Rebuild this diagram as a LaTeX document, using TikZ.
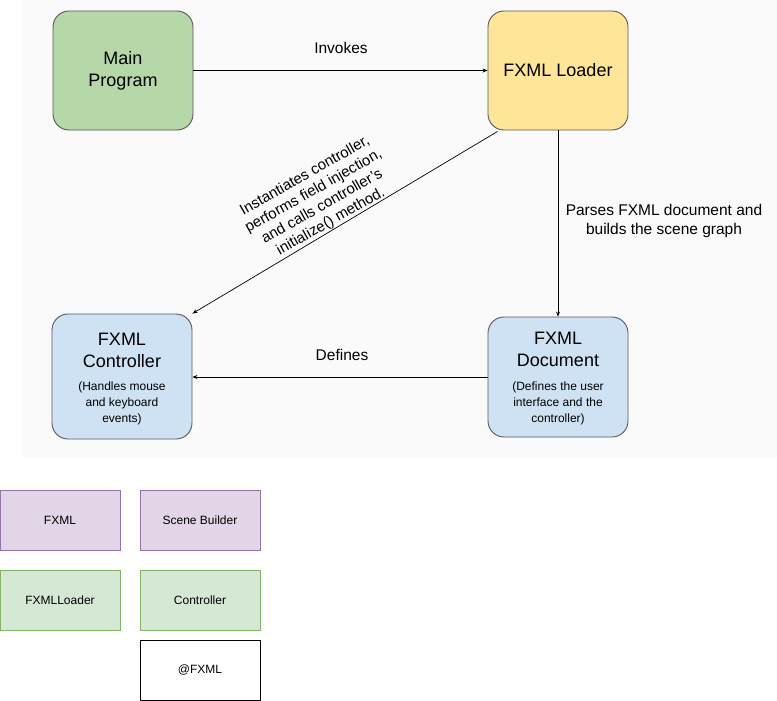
\documentclass[tikz,border=0pt]{standalone}
\usepackage{fontspec}
\setmainfont{Liberation Sans}
\usetikzlibrary{arrows.meta}
\definecolor{mpfill}{HTML}{B6D7A8}
\definecolor{ldfill}{HTML}{FFE599}
\definecolor{bluefill}{HTML}{CFE2F3}
\definecolor{boxline}{HTML}{595959}
\definecolor{purfill}{HTML}{E1D5E7}
\definecolor{purline}{HTML}{9673A6}
\definecolor{grfill}{HTML}{D5E8D4}
\definecolor{grline}{HTML}{82B366}
\definecolor{bgfill}{HTML}{FAFAFA}
\tikzset{
  bigbox/.style={draw=boxline, line width=0.9pt, rounded corners=16pt, minimum width=140pt, align=center, inner sep=0pt},
  legbox/.style={draw, line width=0.8pt, minimum width=120pt, minimum height=60pt, inner sep=0pt, font=\fontsize{12}{14}\selectfont},
  conn/.style={line width=0.7pt, -{Stealth[length=5pt,width=4pt]}},
  lbl/.style={font=\fontsize{15.5}{18.5}\selectfont, align=center},
  ttl/.style={font=\fontsize{18}{22}\selectfont, align=center},
  sub/.style={font=\fontsize{12}{16}\selectfont, align=center}
}
\begin{document}
\begin{tikzpicture}[x=1pt,y=-1pt]
\useasboundingbox (0,0) rectangle (777,701);
\fill[bgfill] (22,0) rectangle (777,457);
\node[bigbox, fill=mpfill, minimum height=119pt, ttl] (main) at (123,70.5) {Main\\Program};
\node[bigbox, fill=ldfill, minimum height=119pt, ttl] (loader) at (558,70.5) {FXML Loader};
\node[bigbox, fill=bluefill, minimum height=125pt] (ctrl) at (122,376.5) {};
\node[bigbox, fill=bluefill, minimum height=120pt] (doc) at (558,377) {};
\node[ttl] (ctrlt) at (122,350) {FXML\\Controller};
\node[sub] (ctrls) at (122,403) {(Handles mouse\\and keyboard\\events)};
\node[ttl] (doct) at (558,349) {FXML\\Document};
\node[sub] (docs) at (558,403) {(Defines the user\\interface and the\\controller)};
\draw[conn] (main.east) -- (loader.west);
\node[lbl] (invl) at (341,48) {Invokes};
\path (loader.south west) ++(10,1) coordinate (ds);
\draw[conn] (ds) -- (ctrl.north east);
\node[lbl, font=\fontsize{15}{17.5}\selectfont, rotate=29.5] (instl) at (318,199) {Instantiates controller,\\performs field injection,\\and calls controller's\\initialize() method.};
\draw[conn] (loader.south) -- (doc.north);
\node[lbl] (parl) at (664,221) {Parses FXML document and\\builds the scene graph};
\draw[conn] (doc.west) -- (ctrl.east |- doc.west);
\node[lbl] (defl) at (342,355) {Defines};
\node[legbox, fill=purfill, draw=purline] (l1) at (60,520) {FXML};
\node[legbox, fill=purfill, draw=purline] (l2) at (200,520) {Scene Builder};
\node[legbox, fill=grfill, draw=grline] (l3) at (60,600) {FXMLLoader};
\node[legbox, fill=grfill, draw=grline] (l4) at (200,600) {Controller};
\node[legbox, fill=white, draw=black] (l5) at (200,670) {@FXML};
\end{tikzpicture}
\end{document}
